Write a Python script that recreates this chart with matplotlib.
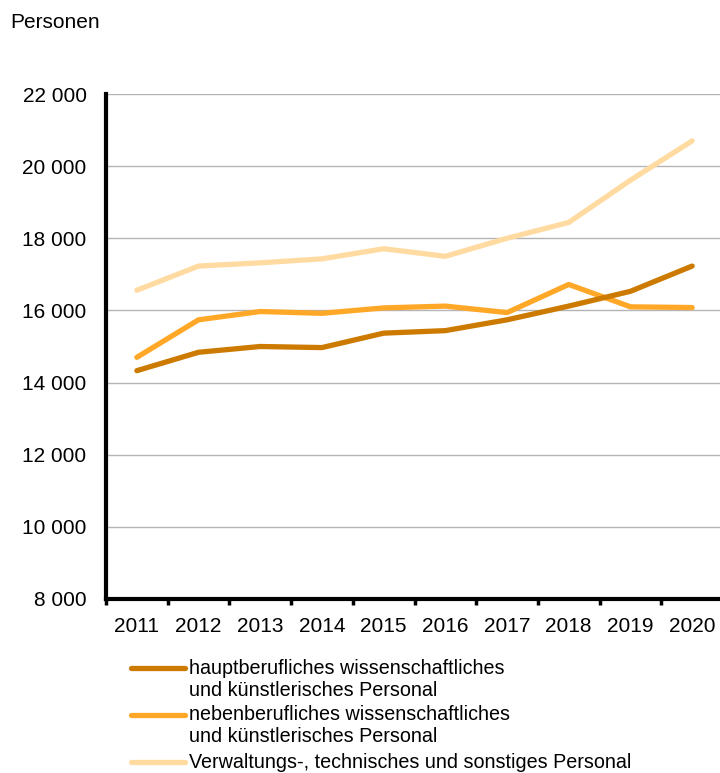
import numpy as np
import matplotlib.pyplot as plt
from matplotlib.lines import Line2D

plt.rcParams['font.family'] = ['Liberation Sans', 'DejaVu Sans']

years = [2011, 2012, 2013, 2014, 2015, 2016, 2017, 2018, 2019, 2020]
haupt = [14330, 14840, 15000, 14970, 15370, 15440, 15740, 16120, 16530, 17230]
neben = [14700, 15740, 15970, 15920, 16070, 16120, 15940, 16720, 16100, 16080]
verwaltung = [16560, 17230, 17320, 17430, 17710, 17500, 18000, 18440, 19610, 20700]

labels = ['hauptberufliches wissenschaftliches\nund künstlerisches Personal',
          'nebenberufliches wissenschaftliches\nund künstlerisches Personal',
          'Verwaltungs-, technisches und sonstiges Personal']
colors = ['#CC7A00', '#FFA828', '#FFDBA2']
series = [haupt, neben, verwaltung]

yticks = np.arange(8000, 22001, 2000)

fig = plt.figure(figsize=(7.2, 7.73), dpi=100)
ax = fig.add_axes([106 / 720, 1 - 599 / 773, 617 / 720, 505 / 773])

x = np.arange(len(years))
# draw light first so darker lines sit on top
for vals, c in list(zip(series, colors))[::-1]:
    ax.plot(x, vals, color=c, lw=3.8, solid_capstyle='round', zorder=3)

ax.set_xlim(-0.5, len(years) - 0.5)
ax.set_ylim(8000, 22000)
ax.set_yticks(yticks)
ax.set_yticklabels([f'{v:,}'.replace(',', ' ') for v in yticks], fontsize=15)
ax.set_xticks(x)
ax.set_xticklabels([str(y) for y in years], fontsize=15)
ax.set_xticks(np.arange(-0.5, len(years)), minor=True)
ax.tick_params(axis='x', which='major', length=0, pad=13)
ax.tick_params(axis='x', which='minor', length=4, width=2.5, color='black')
ax.tick_params(axis='y', length=0, pad=14)

ax.grid(axis='y', color='#B4B4B4', lw=1)
ax.set_axisbelow(True)
for s in ['top', 'right']:
    ax.spines[s].set_visible(False)
for s in ['left', 'bottom']:
    ax.spines[s].set_linewidth(3)
    ax.spines[s].set_color('black')
ax.spines['bottom'].set_zorder(4)

fig.text(10 / 720, 1 - 22 / 773, 'Personen', fontsize=15, va='center', ha='left')

# legend, one text line at a time
rows = [668, 715, 762]
line_step = 22
for r, lab, c in zip(rows, labels, colors):
    yy = 1 - r / 773
    fig.add_artist(Line2D([131 / 720, 185 / 720], [yy, yy], color=c, lw=3.8,
                          solid_capstyle='round'))
    for i, part in enumerate(lab.split('\n')):
        fig.text(189 / 720, 1 - (r + i * line_step) / 773, part, fontsize=14.2,
                 va='center', ha='left')

fig.savefig('out.png', dpi=100)
